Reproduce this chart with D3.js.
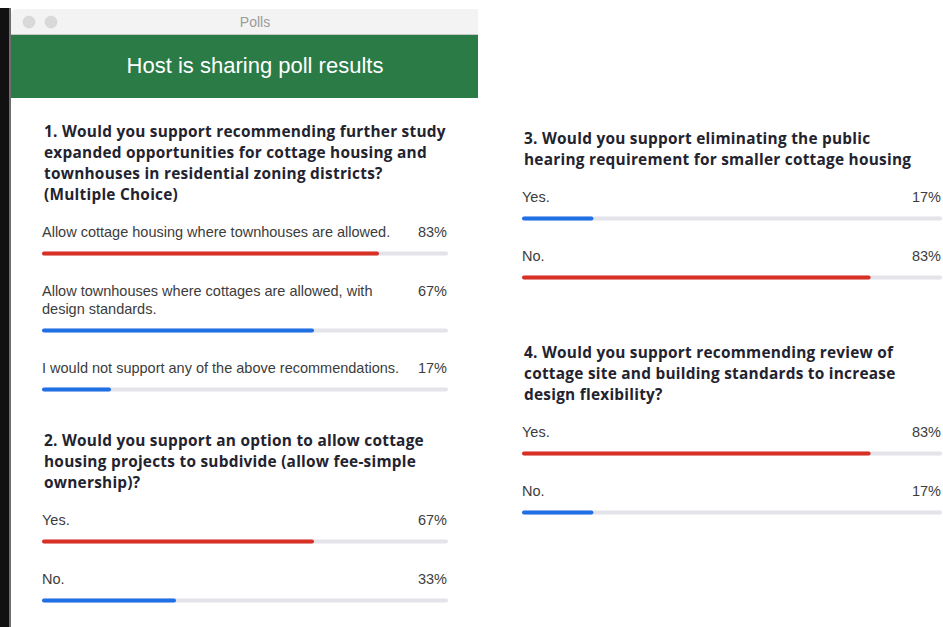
<!DOCTYPE html>
<html>
<head>
<meta charset="utf-8">
<script src="https://cdn.jsdelivr.net/npm/d3@7"></script>
<style>
  html, body { margin: 0; padding: 0; background: #ffffff; }
  svg { display: block; }
</style>
</head>
<body>
<svg id="chart" width="943" height="627"></svg>
<script>
// ---- Data ----
const windowTitle = "Polls";
const headerText = "Host is sharing poll results";

const q1Title = ["1. Would you support recommending further study",
                 "expanded opportunities for cottage housing and",
                 "townhouses in residential zoning districts?",
                 "(Multiple Choice)"];
const q1Labels = [["Allow cottage housing where townhouses are allowed."],
                  ["Allow townhouses where cottages are allowed, with", "design standards."],
                  ["I would not support any of the above recommendations."]];
const q1Values = [83, 67, 17];

const q2Title = ["2. Would you support an option to allow cottage",
                 "housing projects to subdivide (allow fee-simple",
                 "ownership)?"];
const q2Labels = [["Yes."], ["No."]];
const q2Values = [67, 33];

const q3Title = ["3. Would you support eliminating the public",
                 "hearing requirement for smaller cottage housing"];
const q3Labels = [["Yes."], ["No."]];
const q3Values = [17, 83];

const q4Title = ["4. Would you support recommending review of",
                 "cottage site and building standards to increase",
                 "design flexibility?"];
const q4Labels = [["Yes."], ["No."]];
const q4Values = [83, 17];

// ---- Drawing ----
const svg = d3.select("#chart");
const W = 943, H = 627;

// desktop strip at the far left
svg.append("rect").attr("x", 0).attr("y", 8).attr("width", 9).attr("height", H - 8).attr("fill", "#111111");
svg.append("rect").attr("x", 9).attr("y", 8).attr("width", 2).attr("height", H - 8).attr("fill", "#6e6e6e");

// window
const winX = 11, winR = 478, winTop = 9, centerX = 255;
svg.append("path")
  .attr("d", `M${winX},${H} L${winX},${winTop + 6} Q${winX},${winTop} ${winX + 6},${winTop} L${winR},${winTop} L${winR},${H} Z`)
  .attr("fill", "#ffffff");
// title bar
svg.append("path")
  .attr("d", `M${winX},35 L${winX},${winTop + 6} Q${winX},${winTop} ${winX + 6},${winTop} L${winR},${winTop} L${winR},35 Z`)
  .attr("fill", "#f3f3f3");
svg.append("line").attr("x1", winX).attr("x2", winR).attr("y1", 34.5).attr("y2", 34.5)
  .attr("stroke", "#c8c8c8").attr("stroke-width", 1);
[29, 51].forEach(cx => {
  svg.append("circle").attr("cx", cx).attr("cy", 22).attr("r", 6)
    .attr("fill", "#d9d9d9").attr("stroke", "#cfcfcf").attr("stroke-width", 0.5);
});
svg.append("text").attr("x", centerX).attr("y", 22)
  .attr("text-anchor", "middle").attr("dominant-baseline", "central")
  .attr("font-family", "Liberation Sans, Arial, sans-serif").attr("font-size", 14)
  .attr("fill", "#9b9b9b").text(windowTitle);

// green header
svg.append("rect").attr("x", winX).attr("y", 35).attr("width", winR - winX).attr("height", 63)
  .attr("fill", "#2a7b46");
svg.append("text").attr("x", centerX).attr("y", 65)
  .attr("text-anchor", "middle").attr("dominant-baseline", "central")
  .attr("font-family", "Liberation Sans, Arial, sans-serif").attr("font-size", 22)
  .attr("fill", "#ffffff").text(headerText);

const RED = "#d93025", BLUE = "#1f6fe5", TRACK = "#e3e3ea";

function drawQuestion(title, labels, values, x0, x1, y0) {
  const g = svg.append("g");
  const xs = d3.scaleLinear().domain([0, 100]).range([x0, x1]);
  const maxV = d3.max(values);
  const titleLH = 21;
  g.selectAll("text.title").data(title).join("text")
    .attr("class", "title")
    .attr("x", x0 + 2).attr("y", (d, i) => y0 + i * titleLH)
    .attr("dominant-baseline", "central")
    .attr("font-family", "'Open Sans', Lato, sans-serif").attr("font-weight", 700)
    .attr("font-size", 15.4).attr("letter-spacing", 0.25).attr("fill", "#23232f")
    .text(d => d);
  let y = y0 + (title.length - 1) * titleLH + 38;
  labels.forEach((lines, i) => {
    lines.forEach((ln, j) => {
      g.append("text").attr("x", x0).attr("y", y + j * 18)
        .attr("dominant-baseline", "central")
        .attr("font-family", "Liberation Sans, Arial, sans-serif").attr("font-size", 14.5)
        .attr("fill", "#3c3c3c").text(ln);
    });
    g.append("text").attr("x", x1 - 1).attr("y", y)
      .attr("text-anchor", "end").attr("dominant-baseline", "central")
      .attr("font-family", "Liberation Sans, Arial, sans-serif").attr("font-size", 14.5)
      .attr("fill", "#3c3c3c").text(values[i] + "%");
    const by = y + (lines.length - 1) * 18 + 21.5;
    g.append("line").attr("x1", xs(0) + 2).attr("x2", xs(100) - 2).attr("y1", by).attr("y2", by)
      .attr("stroke", TRACK).attr("stroke-width", 4).attr("stroke-linecap", "round");
    g.append("line").attr("x1", xs(0) + 2).attr("x2", xs(values[i]) - 2).attr("y1", by).attr("y2", by)
      .attr("stroke", values[i] === maxV ? RED : BLUE).attr("stroke-width", 4).attr("stroke-linecap", "round");
    y = by + 37.5;
  });
}

drawQuestion(q1Title, q1Labels, q1Values, 42, 448, 131);
drawQuestion(q2Title, q2Labels, q2Values, 42, 448, 440);
drawQuestion(q3Title, q3Labels, q3Values, 522, 942, 138);
drawQuestion(q4Title, q4Labels, q4Values, 522, 942, 352);
</script>
</body>
</html>
